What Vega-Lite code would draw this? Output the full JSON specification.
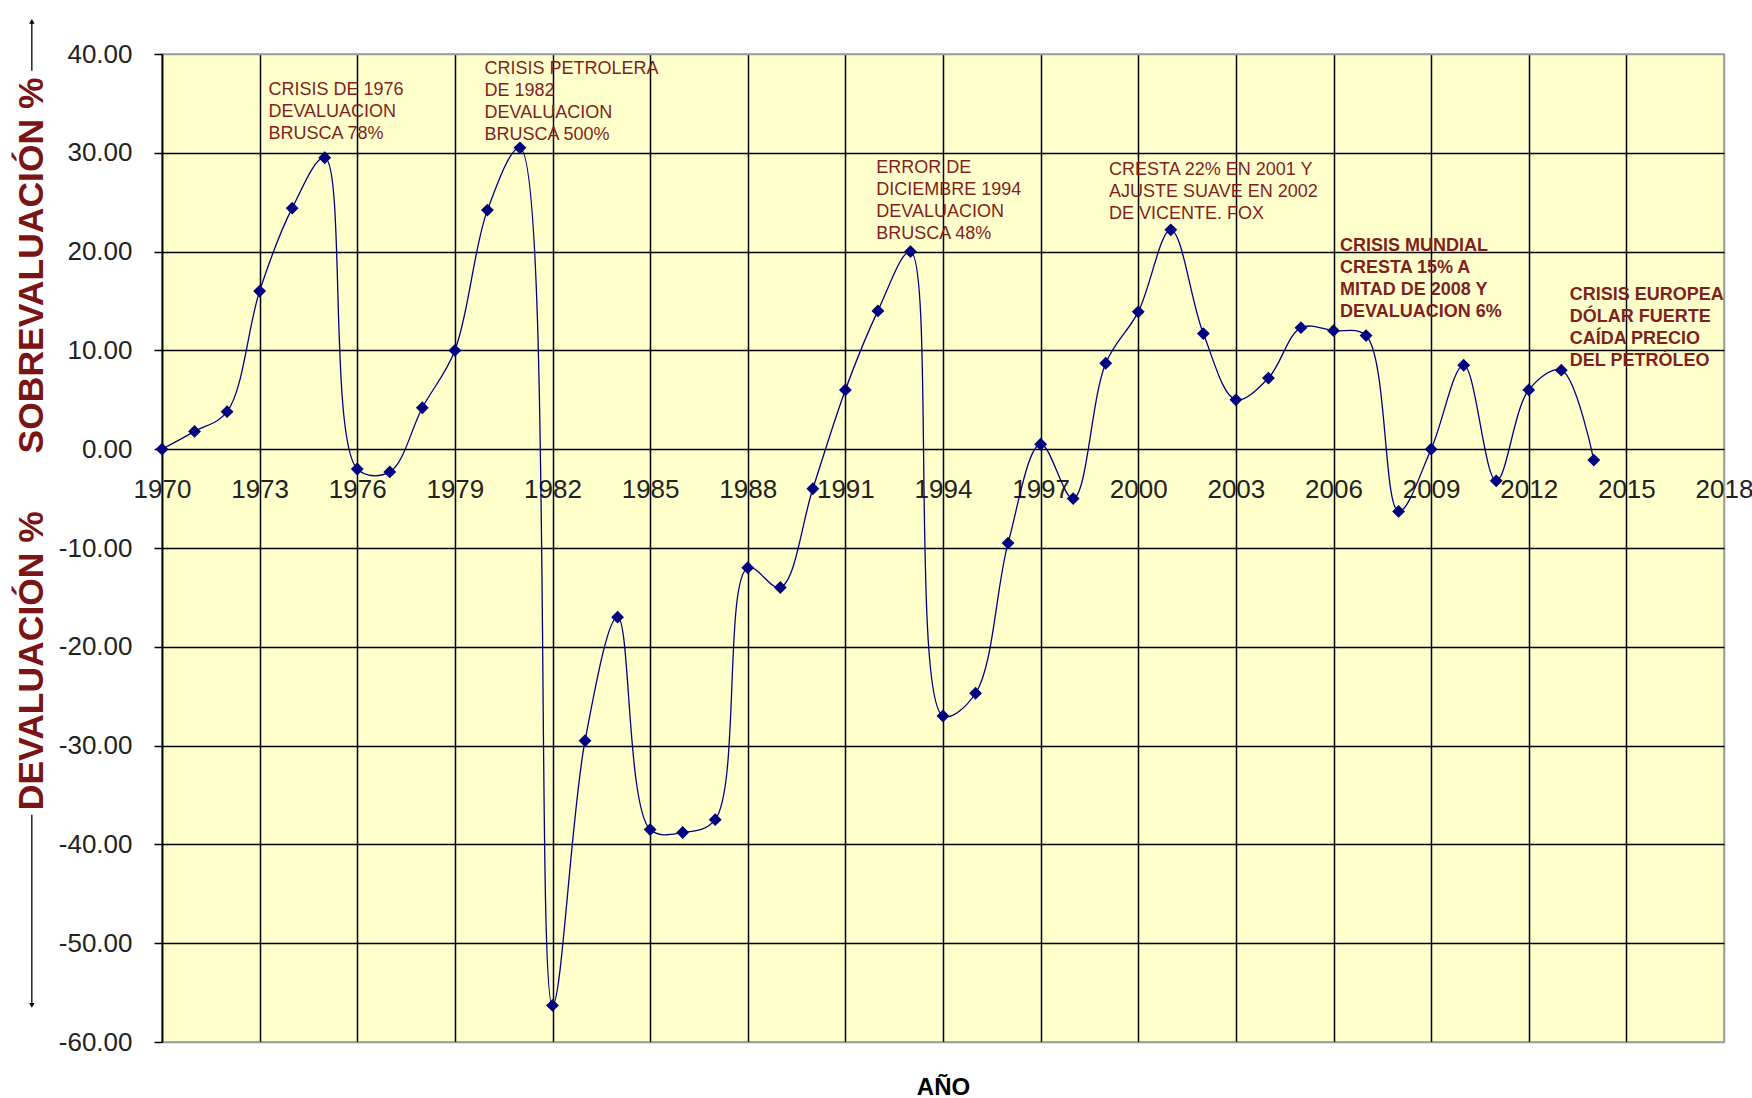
{
  "$schema": "https://vega.github.io/schema/vega-lite/v6.json",
  "width": 1562,
  "height": 988,
  "autosize": {"type": "none"},
  "padding": {"left": 162, "top": 54, "right": 28, "bottom": 56},
  "background": "white",
  "config": {
    "font": "Liberation Sans",
    "view": {"fill": "#FFFFCC", "stroke": "#9a9a9a", "strokeWidth": 1.5},
    "axis": {"gridColor": "#000000", "gridWidth": 1.5, "gridOpacity": 1, "labelColor": "#222222", "labelFont": "Liberation Sans"}
  },
  "datasets": {
    "serie": [
      {"anio": 1970, "valor": 0.0}, {"anio": 1971, "valor": 1.8}, {"anio": 1972, "valor": 3.8},
      {"anio": 1973, "valor": 16.0}, {"anio": 1974, "valor": 24.4}, {"anio": 1975, "valor": 29.5},
      {"anio": 1976, "valor": -2.0}, {"anio": 1977, "valor": -2.3}, {"anio": 1978, "valor": 4.2},
      {"anio": 1979, "valor": 10.0}, {"anio": 1980, "valor": 24.2}, {"anio": 1981, "valor": 30.5},
      {"anio": 1982, "valor": -56.3}, {"anio": 1983, "valor": -29.5}, {"anio": 1984, "valor": -17.0},
      {"anio": 1985, "valor": -38.5}, {"anio": 1986, "valor": -38.8}, {"anio": 1987, "valor": -37.5},
      {"anio": 1988, "valor": -12.0}, {"anio": 1989, "valor": -14.0}, {"anio": 1990, "valor": -4.0},
      {"anio": 1991, "valor": 6.0}, {"anio": 1992, "valor": 14.0}, {"anio": 1993, "valor": 20.0},
      {"anio": 1994, "valor": -27.0}, {"anio": 1995, "valor": -24.7}, {"anio": 1996, "valor": -9.5},
      {"anio": 1997, "valor": 0.5}, {"anio": 1998, "valor": -5.0}, {"anio": 1999, "valor": 8.7},
      {"anio": 2000, "valor": 13.9}, {"anio": 2001, "valor": 22.2}, {"anio": 2002, "valor": 11.7},
      {"anio": 2003, "valor": 5.0}, {"anio": 2004, "valor": 7.2}, {"anio": 2005, "valor": 12.3},
      {"anio": 2006, "valor": 12.0}, {"anio": 2007, "valor": 11.5}, {"anio": 2008, "valor": -6.3},
      {"anio": 2009, "valor": 0.0}, {"anio": 2010, "valor": 8.5}, {"anio": 2011, "valor": -3.2},
      {"anio": 2012, "valor": 6.0}, {"anio": 2013, "valor": 8.0}, {"anio": 2014, "valor": -1.1}
    ],
    "notas": [
      {"anio": 1973.27, "valor": 37.3, "texto": "CRISIS DE 1976\nDEVALUACION\nBRUSCA 78%"},
      {"anio": 1979.91, "valor": 39.4, "texto": "CRISIS PETROLERA\nDE 1982\nDEVALUACION\nBRUSCA 500%"},
      {"anio": 1991.95, "valor": 29.4, "texto": "ERROR DE\nDICIEMBRE 1994\nDEVALUACION\nBRUSCA  48%"},
      {"anio": 1999.1, "valor": 29.2, "texto": "CRESTA 22% EN 2001 Y\nAJUSTE SUAVE EN 2002\nDE VICENTE. FOX"}
    ],
    "notas_recientes": [
      {"anio": 2006.2, "valor": 21.5, "texto": "CRISIS MUNDIAL\nCRESTA 15%   A\nMITAD DE 2008  Y\nDEVALUACION 6%"},
      {"anio": 2013.26, "valor": 16.5, "texto": "CRISIS EUROPEA\nDÓLAR FUERTE\nCAÍDA PRECIO\nDEL PETRÓLEO"}
    ],
    "titulos": [
      {"anio": 1966.0, "valor": 18.6, "texto": "SOBREVALUACIÓN %"},
      {"anio": 1966.0, "valor": -21.4, "texto": "DEVALUACIÓN %"}
    ],
    "flechas": [
      {"anio": 1966.0, "desde": 38.3, "hasta": 43.3, "sentido": "arriba"},
      {"anio": 1966.0, "desde": -37.0, "hasta": -56.3, "sentido": "abajo"}
    ]
  },
  "layer": [
    {
      "data": {"name": "serie"},
      "mark": {"type": "line", "interpolate": "catmull-rom", "color": "#000080", "strokeWidth": 1.3},
      "encoding": {
        "x": {
          "field": "anio", "type": "quantitative",
          "scale": {"domain": [1970, 2018], "nice": false, "zero": false},
          "axis": {
            "orient": "bottom", "grid": true, "labels": false, "ticks": false, "domain": false,
            "values": [1970, 1973, 1976, 1979, 1982, 1985, 1988, 1991, 1994, 1997, 2000, 2003, 2006, 2009, 2012, 2015, 2018],
            "gridColor": {"condition": {"test": "datum.value === 2018", "value": "#9a9a9a"}, "value": "#000000"},
            "title": "AÑO", "titleFontSize": 24, "titleFontWeight": "bold", "titleColor": "#000000", "titlePadding": 33, "titleFont": "Liberation Sans"
          }
        },
        "y": {
          "field": "valor", "type": "quantitative",
          "scale": {"domain": [-60, 40], "nice": false, "zero": false},
          "axis": {
            "values": [-60, -50, -40, -30, -20, -10, 0, 10, 20, 30, 40],
            "labelExpr": "replace(format(datum.value, '.2f'), '\u2212', '-')",
            "grid": true, "labelFontSize": 26, "tickSize": 8, "labelPadding": 22,
            "gridColor": {"condition": {"test": "datum.value === 40 || datum.value === -60", "value": "#9a9a9a"}, "value": "#000000"},
            "domainColor": "#000000", "domainWidth": 1.5, "tickColor": "#000000", "tickWidth": 1.5, "title": null
          }
        }
      }
    },
    {
      "data": {"name": "serie"},
      "mark": {"type": "point", "shape": "diamond", "filled": true, "size": 165, "color": "#000080", "opacity": 1},
      "encoding": {
        "x": {
          "field": "anio", "type": "quantitative",
          "axis": {
            "orient": "bottom", "offset": -592.8, "grid": false, "domain": false, "ticks": false,
            "labelFontSize": 26, "labelPadding": 27, "labelBound": false, "labelOverlap": false, "labelFlush": false,
            "values": [1970, 1973, 1976, 1979, 1982, 1985, 1988, 1991, 1994, 1997, 2000, 2003, 2006, 2009, 2012, 2015, 2018],
            "format": "d", "title": null
          }
        },
        "y": {
          "field": "valor", "type": "quantitative",
          "axis": {
            "values": [-60, -50, -40, -30, -20, -10, 0, 10, 20, 30, 40],
            "labelExpr": "replace(format(datum.value, '.2f'), '\u2212', '-')",
            "grid": true, "labelFontSize": 26, "tickSize": 8, "labelPadding": 22,
            "gridColor": {"condition": {"test": "datum.value === 40 || datum.value === -60", "value": "#9a9a9a"}, "value": "#000000"},
            "domainColor": "#000000", "domainWidth": 1.5, "tickColor": "#000000", "tickWidth": 1.5, "title": null
          }
        }
      }
    },
    {
      "data": {"name": "notas"},
      "mark": {"type": "text", "align": "left", "baseline": "top", "lineBreak": "\n", "lineHeight": 22, "fontSize": 18, "color": "#7F1F1F", "font": "Liberation Sans"},
      "encoding": {
        "x": {"field": "anio", "type": "quantitative", "axis": null},
        "y": {
          "field": "valor", "type": "quantitative",
          "axis": {
            "values": [-60, -50, -40, -30, -20, -10, 0, 10, 20, 30, 40],
            "labelExpr": "replace(format(datum.value, '.2f'), '\u2212', '-')",
            "grid": true, "labelFontSize": 26, "tickSize": 8, "labelPadding": 22,
            "gridColor": {"condition": {"test": "datum.value === 40 || datum.value === -60", "value": "#9a9a9a"}, "value": "#000000"},
            "domainColor": "#000000", "domainWidth": 1.5, "tickColor": "#000000", "tickWidth": 1.5, "title": null
          }
        },
        "text": {"field": "texto"}
      }
    },
    {
      "data": {"name": "notas_recientes"},
      "mark": {"type": "text", "align": "left", "baseline": "top", "lineBreak": "\n", "lineHeight": 22, "fontSize": 18, "fontWeight": "bold", "color": "#7F1F1F", "font": "Liberation Sans"},
      "encoding": {
        "x": {"field": "anio", "type": "quantitative", "axis": null},
        "y": {
          "field": "valor", "type": "quantitative",
          "axis": {
            "values": [-60, -50, -40, -30, -20, -10, 0, 10, 20, 30, 40],
            "labelExpr": "replace(format(datum.value, '.2f'), '\u2212', '-')",
            "grid": true, "labelFontSize": 26, "tickSize": 8, "labelPadding": 22,
            "gridColor": {"condition": {"test": "datum.value === 40 || datum.value === -60", "value": "#9a9a9a"}, "value": "#000000"},
            "domainColor": "#000000", "domainWidth": 1.5, "tickColor": "#000000", "tickWidth": 1.5, "title": null
          }
        },
        "text": {"field": "texto"}
      }
    },
    {
      "data": {"name": "titulos"},
      "mark": {"type": "text", "angle": 270, "align": "center", "baseline": "middle", "fontSize": 35.5, "fontWeight": "bold", "color": "#7B1414", "font": "Liberation Sans"},
      "encoding": {
        "x": {"field": "anio", "type": "quantitative", "axis": null},
        "y": {
          "field": "valor", "type": "quantitative",
          "axis": {
            "values": [-60, -50, -40, -30, -20, -10, 0, 10, 20, 30, 40],
            "labelExpr": "replace(format(datum.value, '.2f'), '\u2212', '-')",
            "grid": true, "labelFontSize": 26, "tickSize": 8, "labelPadding": 22,
            "gridColor": {"condition": {"test": "datum.value === 40 || datum.value === -60", "value": "#9a9a9a"}, "value": "#000000"},
            "domainColor": "#000000", "domainWidth": 1.5, "tickColor": "#000000", "tickWidth": 1.5, "title": null
          }
        },
        "text": {"field": "texto"}
      }
    },
    {
      "data": {"name": "flechas"},
      "mark": {"type": "rule", "color": "#000000", "strokeWidth": 1.3},
      "encoding": {
        "x": {"field": "anio", "type": "quantitative", "axis": null},
        "y": {
          "field": "desde", "type": "quantitative",
          "axis": {
            "values": [-60, -50, -40, -30, -20, -10, 0, 10, 20, 30, 40],
            "labelExpr": "replace(format(datum.value, '.2f'), '\u2212', '-')",
            "grid": true, "labelFontSize": 26, "tickSize": 8, "labelPadding": 22,
            "gridColor": {"condition": {"test": "datum.value === 40 || datum.value === -60", "value": "#9a9a9a"}, "value": "#000000"},
            "domainColor": "#000000", "domainWidth": 1.5, "tickColor": "#000000", "tickWidth": 1.5, "title": null
          }
        },
        "y2": {"field": "hasta"}
      }
    },
    {
      "data": {"name": "flechas"},
      "mark": {"type": "point", "filled": true, "size": 30, "color": "#000000", "opacity": 1},
      "encoding": {
        "x": {"field": "anio", "type": "quantitative", "axis": null},
        "y": {
          "field": "hasta", "type": "quantitative",
          "axis": {
            "values": [-60, -50, -40, -30, -20, -10, 0, 10, 20, 30, 40],
            "labelExpr": "replace(format(datum.value, '.2f'), '\u2212', '-')",
            "grid": true, "labelFontSize": 26, "tickSize": 8, "labelPadding": 22,
            "gridColor": {"condition": {"test": "datum.value === 40 || datum.value === -60", "value": "#9a9a9a"}, "value": "#000000"},
            "domainColor": "#000000", "domainWidth": 1.5, "tickColor": "#000000", "tickWidth": 1.5, "title": null
          }
        },
        "shape": {"field": "sentido", "type": "nominal", "scale": {"domain": ["arriba", "abajo"], "range": ["triangle-up", "triangle-down"]}, "legend": null}
      }
    }
  ],
  "resolve": {"axis": {"x": "independent", "y": "shared"}}
}
